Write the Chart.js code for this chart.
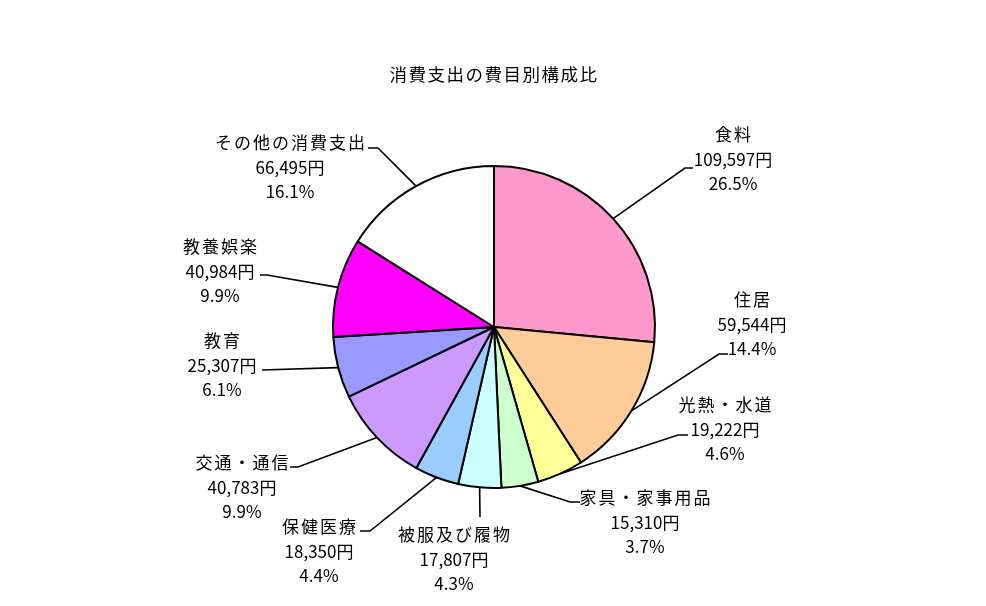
<!DOCTYPE html>
<html lang="ja">
<head>
<meta charset="UTF-8">
<title>消費支出の費目別構成比</title>
<style>
  html, body { margin: 0; padding: 0; background: #fff; }
</style>
</head>
<body>
<canvas id="myChart01" width="986" height="606"></canvas>
<script src="https://cdn.jsdelivr.net/npm/chart.js"></script>
<script>
// データ
var categories = ['食料', '住居', '光熱・水道', '家具・家事用品', '被服及び履物', '保健医療', '交通・通信', '教育', '教養娯楽', 'その他の消費支出'];
var amounts = [109597, 59544, 19222, 15310, 17807, 18350, 40783, 25307, 40984, 66495];
var amountLabels = ['109,597円', '59,544円', '19,222円', '15,310円', '17,807円', '18,350円', '40,783円', '25,307円', '40,984円', '66,495円'];
var percentLabels = ['26.5%', '14.4%', '4.6%', '3.7%', '4.3%', '4.4%', '9.9%', '6.1%', '9.9%', '16.1%'];
var sliceColors = ['#FF99CC', '#FFCC99', '#FFFF99', '#CCFFCC', '#CCFFFF', '#99CCFF', '#CC99FF', '#9999FF', '#FF00FF', '#FFFFFF'];

var FONT = '"Noto Sans CJK JP", "Noto Sans CJK SC", sans-serif';

// ラベルの置き場所（文字の中心x、1行目のy、引き出し線の折れ点）
var labelPlace = [
    { x: 733, y: 135, elbow: [[685, 168], [693, 168]] },
    { x: 752, y: 300, elbow: [[719, 354], [728, 354]] },
    { x: 725, y: 405, elbow: [[678, 435], [688, 435]] },
    { x: 645, y: 498, elbow: [[570, 502], [580, 502]] },
    { x: 454, y: 535, elbow: [[480, 517]] },
    { x: 319, y: 527, elbow: [[370, 531], [360, 531]] },
    { x: 242, y: 463, elbow: [[298, 467], [290, 467]] },
    { x: 222, y: 341, elbow: [[262, 370]] },
    { x: 220, y: 247, elbow: [[267, 275], [260, 275]] },
    { x: 290, y: 143, elbow: [[378, 148], [368, 148]] }
];
var LINE_GAP = 24.5;
var NAME_SPACING = 2;

// タイトルの字間を少し広げる
var titleSpacing = {
    id: 'titleSpacing',
    beforeDraw: function (chart) { chart.ctx.letterSpacing = '1.5px'; },
    afterDraw: function (chart) { chart.ctx.letterSpacing = '0px'; }
};

// 引き出し線とラベルを描くプラグイン
var pieLabels = {
    id: 'pieLabels',
    afterDatasetsDraw: function (chart) {
        var ctx = chart.ctx;
        var meta = chart.getDatasetMeta(0);
        ctx.save();
        meta.data.forEach(function (arc, i) {
            var p = arc.getProps(['x', 'y', 'startAngle', 'endAngle', 'outerRadius'], true);
            var mid = (p.startAngle + p.endAngle) / 2;
            var sx = p.x + Math.cos(mid) * p.outerRadius;
            var sy = p.y + Math.sin(mid) * p.outerRadius;
            var place = labelPlace[i];
            ctx.strokeStyle = '#000';
            ctx.lineWidth = 1.6;
            ctx.beginPath();
            ctx.moveTo(sx, sy);
            place.elbow.forEach(function (pt) { ctx.lineTo(pt[0], pt[1]); });
            ctx.stroke();

            ctx.fillStyle = '#000';
            ctx.font = '17px ' + FONT;
            ctx.textAlign = 'center';
            ctx.textBaseline = 'middle';
            ctx.letterSpacing = NAME_SPACING + 'px';
            ctx.fillText(categories[i], place.x + NAME_SPACING / 2, place.y);
            ctx.letterSpacing = '0px';
            ctx.fillText(amountLabels[i], place.x, place.y + LINE_GAP);
            ctx.fillText(percentLabels[i], place.x, place.y + LINE_GAP * 2);
        });
        ctx.restore();
    }
};

var ctx01 = document.getElementById('myChart01');
var chart01 = new Chart(ctx01, {
    type: 'pie',
    data: {
        labels: categories,
        datasets: [{
            data: amounts,
            backgroundColor: sliceColors,
            borderColor: '#000',
            borderWidth: 2
        }]
    },
    options: {
        responsive: false,
        animation: false,
        devicePixelRatio: 1,
        layout: {
            padding: { top: 0, bottom: 117, left: 332, right: 330 }
        },
        plugins: {
            legend: { display: false },
            tooltip: { enabled: false },
            title: {
                display: true,
                text: '消費支出の費目別構成比',
                color: '#000',
                font: { family: FONT, size: 17.5, weight: 'normal', lineHeight: 1.2 },
                padding: { top: 64, bottom: 80 }
            }
        }
    },
    plugins: [titleSpacing, pieLabels]
});
</script>
</body>
</html>
